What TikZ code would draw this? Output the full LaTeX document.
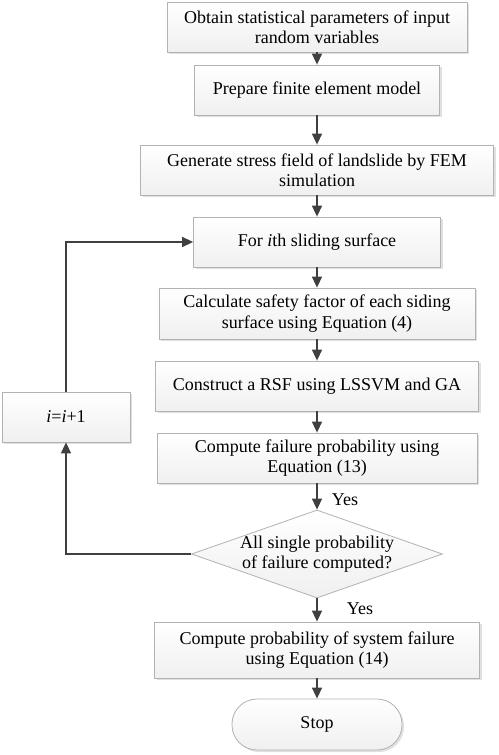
\documentclass[tikz,border=0pt]{standalone}
\usepackage{fontspec}
\setmainfont{Liberation Serif}
\usetikzlibrary{arrows.meta,shapes.geometric,shadows}

\begin{document}
\begin{tikzpicture}[x=1pt, y=1pt,
    every node/.style={font=\fontsize{18}{20.5}\selectfont},
    stepbox/.style={draw=gray!60, line width=0.8pt, top color=white, bottom color=gray!12,
      drop shadow={fill=gray!60, opacity=0.4, shadow xshift=2pt, shadow yshift=-2pt},
      align=center, minimum height=50pt, inner sep=0pt},
    decision/.style={diamond, draw=gray!60, line width=0.8pt, top color=white, bottom color=gray!12,
      minimum width=251pt, minimum height=88pt, inner sep=0pt},
    terminal/.style={stepbox, rounded corners=25pt, minimum width=170pt, minimum height=51pt},
    flow/.style={draw=black!75, line width=1.5pt, -{Triangle[width=10pt,length=11pt]}}]
    \def \cx {317}
    \useasboundingbox (0,0) rectangle (498,-755);
    % main column
    \node[stepbox, minimum width=300pt] (obtain) at (\cx,-27) {Obtain statistical parameters of input\\random variables};
    \node[stepbox, minimum width=245pt] (prepare) at (\cx,-90) {Prepare finite element model};
    \node[stepbox, minimum width=353pt] (generate) at (\cx,-170) {Generate stress field of landslide by FEM\\simulation};
    \node[stepbox, minimum width=247pt] (surface) at (\cx,-242) {For \textit{i}th sliding surface};
    \node[stepbox, minimum width=316pt, minimum height=51pt] (safety) at (\cx,-313.5) {Calculate safety factor of each siding\\surface using Equation (4)};
    \node[stepbox, minimum width=323pt] (rsf) at (\cx,-386) {Construct a RSF using LSSVM and GA};
    \node[stepbox, minimum width=320pt] (failure) at (\cx,-458) {Compute failure probability using\\Equation (13)};
    \node[decision] (check) at (\cx,-554) {};
    \node[align=center] (checktext) at (check) {All single probability\\of failure computed?};
    \node[stepbox, minimum width=325pt, minimum height=56pt] (system) at (\cx,-650) {Compute probability of\ system failure\\using Equation (14)};
    \node[terminal] (stop) at (\cx,-724.5) {Stop};
    % loop
    \node[stepbox, minimum width=128pt] (incr) at (66,-417) {\textit{i}=\textit{i}+1};
    \node (yes1) at (345,-500) {Yes};
    \node (yes2) at (360,-609) {Yes};

    \draw[flow] (obtain) -- (prepare);
    \draw[flow] (prepare) -- (generate);
    \draw[flow] (generate) -- (surface);
    \draw[flow] (surface) -- (safety);
    \draw[flow] (safety) -- (rsf);
    \draw[flow] (rsf) -- (failure);
    \draw[flow] (failure) -- (check);
    \draw[flow] (check) -- (system);
    \draw[flow] (system) -- (stop);
    \draw[flow] (check.west) -| (incr.south);
    \draw[flow] (incr.north) |- (surface.west);
\end{tikzpicture}
\end{document}
